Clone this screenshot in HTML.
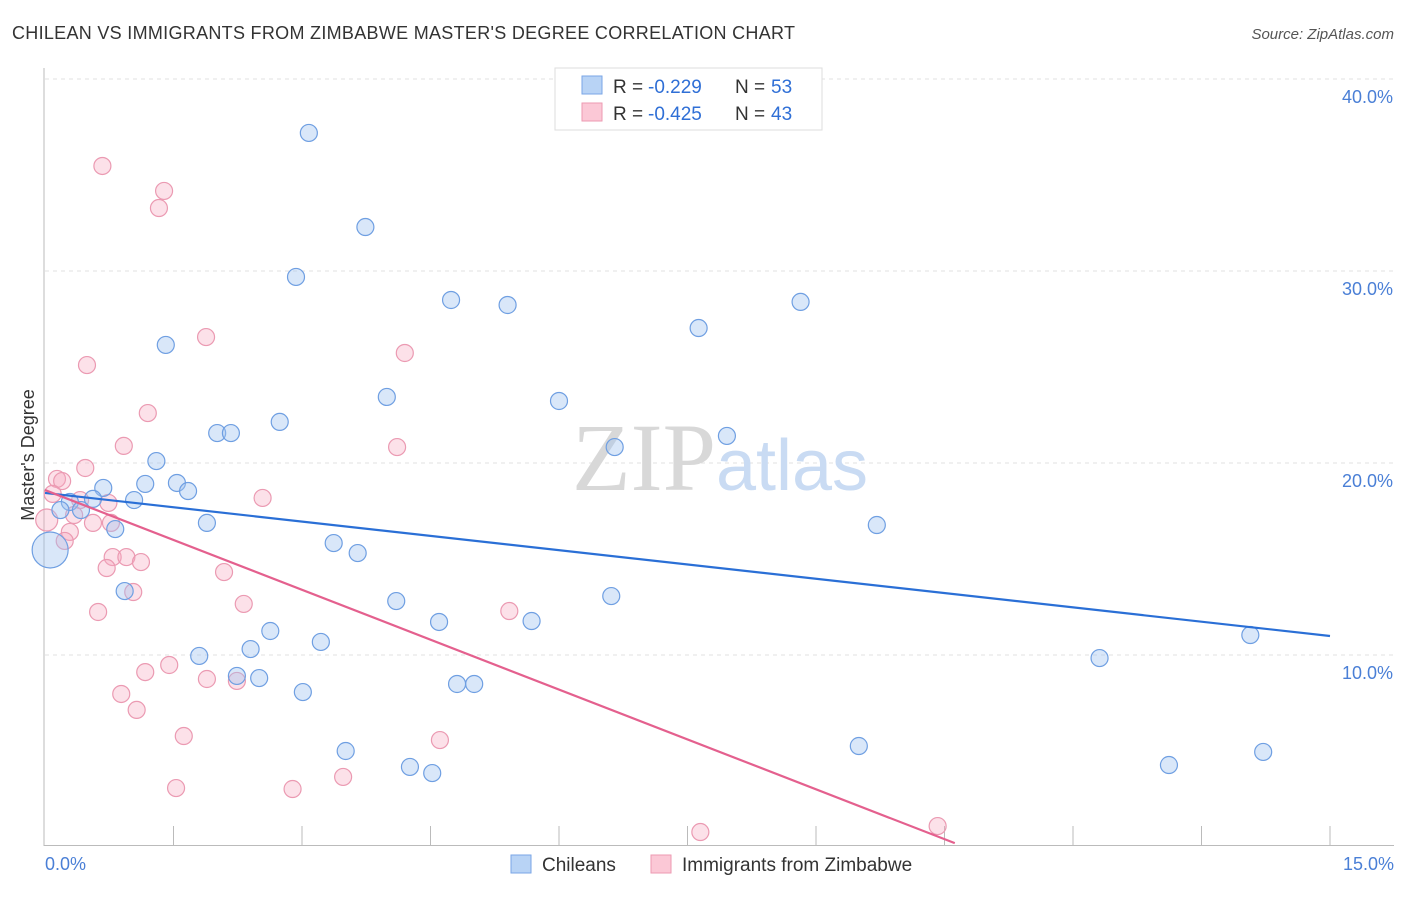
<!DOCTYPE html>
<html><head><meta charset="utf-8"><style>
body{margin:0;background:#fff;font-family:"Liberation Sans",sans-serif}
svg text{font-family:"Liberation Sans",sans-serif}
</style></head><body>
<svg id="c" width="1406" height="892" viewBox="0 0 1406 892" xmlns="http://www.w3.org/2000/svg">
<text x="12" y="39" font-size="18" fill="#333" textLength="783">CHILEAN VS IMMIGRANTS FROM ZIMBABWE MASTER'S DEGREE CORRELATION CHART</text>
<text x="1394" y="39" font-size="15" fill="#555" font-style="italic" text-anchor="end">Source: ZipAtlas.com</text>
<g id="grid"></g>
<text x="720" y="490" font-size="96" fill="#ddd" text-anchor="middle" font-family="Liberation Serif"><tspan fill="#d8d8d8" font-family="Liberation Serif">ZIP</tspan><tspan fill="#c9dbf3" font-family="Liberation Sans" font-size="72">atlas</tspan></text>
<g id="pts"></g>
<g id="lines"></g>
<text transform="translate(34,455) rotate(-90)" font-size="18" fill="#333" text-anchor="middle">Master's Degree</text>
<text x="45" y="870" font-size="18" fill="#4a7fd6">0.0%</text>
<text x="1394" y="870" font-size="18" fill="#4a7fd6" text-anchor="end">15.0%</text>
<g>
<rect x="555" y="68" width="267" height="62" fill="#fff" stroke="#ddd"/>
<rect x="582" y="76" width="20" height="18" fill="#b8d3f5" stroke="#7aa6e6"/>
<rect x="582" y="103" width="20" height="18" fill="#fbc8d6" stroke="#ec9ab2"/>
<text x="613" y="93" font-size="19" fill="#333">R =</text>
<text x="648" y="93" font-size="19" fill="#2f6fd6">-0.229</text>
<text x="735" y="93" font-size="19" fill="#333">N =</text>
<text x="771" y="93" font-size="19" fill="#2f6fd6">53</text>
<text x="613" y="120" font-size="19" fill="#333">R =</text>
<text x="648" y="120" font-size="19" fill="#2f6fd6">-0.425</text>
<text x="735" y="120" font-size="19" fill="#333">N =</text>
<text x="771" y="120" font-size="19" fill="#2f6fd6">43</text>
</g>
<g>
<rect x="511" y="855" width="20" height="18" fill="#b8d3f5" stroke="#7aa6e6"/>
<text x="542" y="871" font-size="19" fill="#333">Chileans</text>
<rect x="651" y="855" width="20" height="18" fill="#fbc8d6" stroke="#ec9ab2"/>
<text x="682" y="871" font-size="19" fill="#333">Immigrants from Zimbabwe</text>
</g>
</svg>
<script>
const yTicks=[10,20,30,40];
const yTickLabels=["10.0%","20.0%","30.0%","40.0%"];
const blueX=[3.08,3.74,2.93,4.74,5.40,8.82,7.63,1.41,3.99,6.00,2.74,2.01,2.17,7.96,6.65,1.30,1.17,1.54,1.67,0.68,0.56,1.04,0.29,0.42,0.18,0.82,1.89,9.71,3.37,3.65,0.06,0.93,4.10,6.61,4.60,5.68,2.63,3.22,14.07,2.40,1.80,12.31,2.24,2.50,3.01,4.81,5.01,3.51,9.50,4.26,4.52,13.12,14.22];
const blueY=[37.19,32.29,29.69,28.49,28.23,28.39,27.03,26.15,23.44,23.23,22.14,21.56,21.56,21.41,20.83,20.10,18.91,18.96,18.54,18.70,18.13,18.07,17.97,17.55,17.55,16.56,16.88,16.77,15.83,15.31,15.47,13.33,12.81,13.07,11.72,11.77,11.25,10.68,11.04,10.31,9.95,9.84,8.91,8.80,8.07,8.49,8.49,5.00,5.26,4.17,3.85,4.27,4.95];
const pinkX=[0.67,1.39,1.33,1.88,0.49,4.20,1.20,0.92,4.11,0.47,0.14,0.20,0.09,2.54,0.41,0.74,0.34,0.56,0.77,0.29,0.23,0.79,0.95,1.12,0.72,2.09,1.03,2.32,0.62,5.42,1.45,1.17,1.89,2.24,0.89,1.07,1.62,4.61,3.48,1.53,2.89,7.65,10.42,0.02];
const pinkY=[35.47,34.17,33.28,26.56,25.10,25.73,22.60,20.89,20.83,19.74,19.17,19.06,18.39,18.18,18.07,17.92,17.29,16.88,16.88,16.41,15.94,15.10,15.10,14.84,14.53,14.32,13.28,12.66,12.24,12.29,9.48,9.11,8.75,8.65,7.97,7.14,5.78,5.57,3.65,3.07,3.02,0.78,1.09,17.03];
const blueTrend=[[0,18.44],[15,10.99]];
const pinkTrend=[[0,18.59],[10.62,0.2]];
const NS="http://www.w3.org/2000/svg";
const sx=v=>45+v/15*1285, sy=v=>847-v*19.2;
function mk(t,a,p){const e=document.createElementNS(NS,t);for(const k in a)e.setAttribute(k,a[k]);p.appendChild(e);return e;}
const grid=document.getElementById('grid');
yTicks.forEach((t,i)=>{
 const l=mk('line',{x1:45,x2:1394,y1:sy(t),y2:sy(t),stroke:'#e2e2e2','stroke-dasharray':'4,4'},grid);
 
 
 const tx=mk('text',{x:1393,y:sy(t)+24,'font-size':18,fill:'#4a7fd6','text-anchor':'end'},grid);
 tx.textContent=yTickLabels[i];
 
 
});
mk('line',{x1:44,x2:44,y1:68,y2:846,stroke:'#bbb'},grid);
mk('line',{x1:44,x2:1394,y1:845.5,y2:845.5,stroke:'#bbb'},grid);
for(let i=1;i<=10;i++){const x=sx(i*1.5);mk('line',{x1:x,x2:x,y1:826,y2:846,stroke:'#bbb'},grid);}
const pts=document.getElementById('pts');
pinkX.forEach((x,i)=>{const r=i===pinkX.length-1?11:8.5;
 const c=mk('circle',{cx:sx(x),cy:sy(pinkY[i]),r:r,fill:'rgba(245,170,192,0.35)',stroke:'#eb9ab2','stroke-width':1.2},pts);
 
 });
blueX.forEach((x,i)=>{const r=i===30?18:8.5;
 const c=mk('circle',{cx:sx(x),cy:sy(blueY[i]),r:r,fill:'rgba(160,195,240,0.4)',stroke:'#6f9fe2','stroke-width':1.2},pts);
 
 });
const lines=document.getElementById('lines');
const bl=mk('line',{x1:sx(blueTrend[0][0]),y1:sy(blueTrend[0][1]),x2:sx(blueTrend[1][0]),y2:sy(blueTrend[1][1]),stroke:'#2a6fd6','stroke-width':2.2},lines);


const pl=mk('line',{x1:sx(pinkTrend[0][0]),y1:sy(pinkTrend[0][1]),x2:sx(pinkTrend[1][0]),y2:sy(pinkTrend[1][1]),stroke:'#e4608e','stroke-width':2.2},lines);


</script>
</body></html>
